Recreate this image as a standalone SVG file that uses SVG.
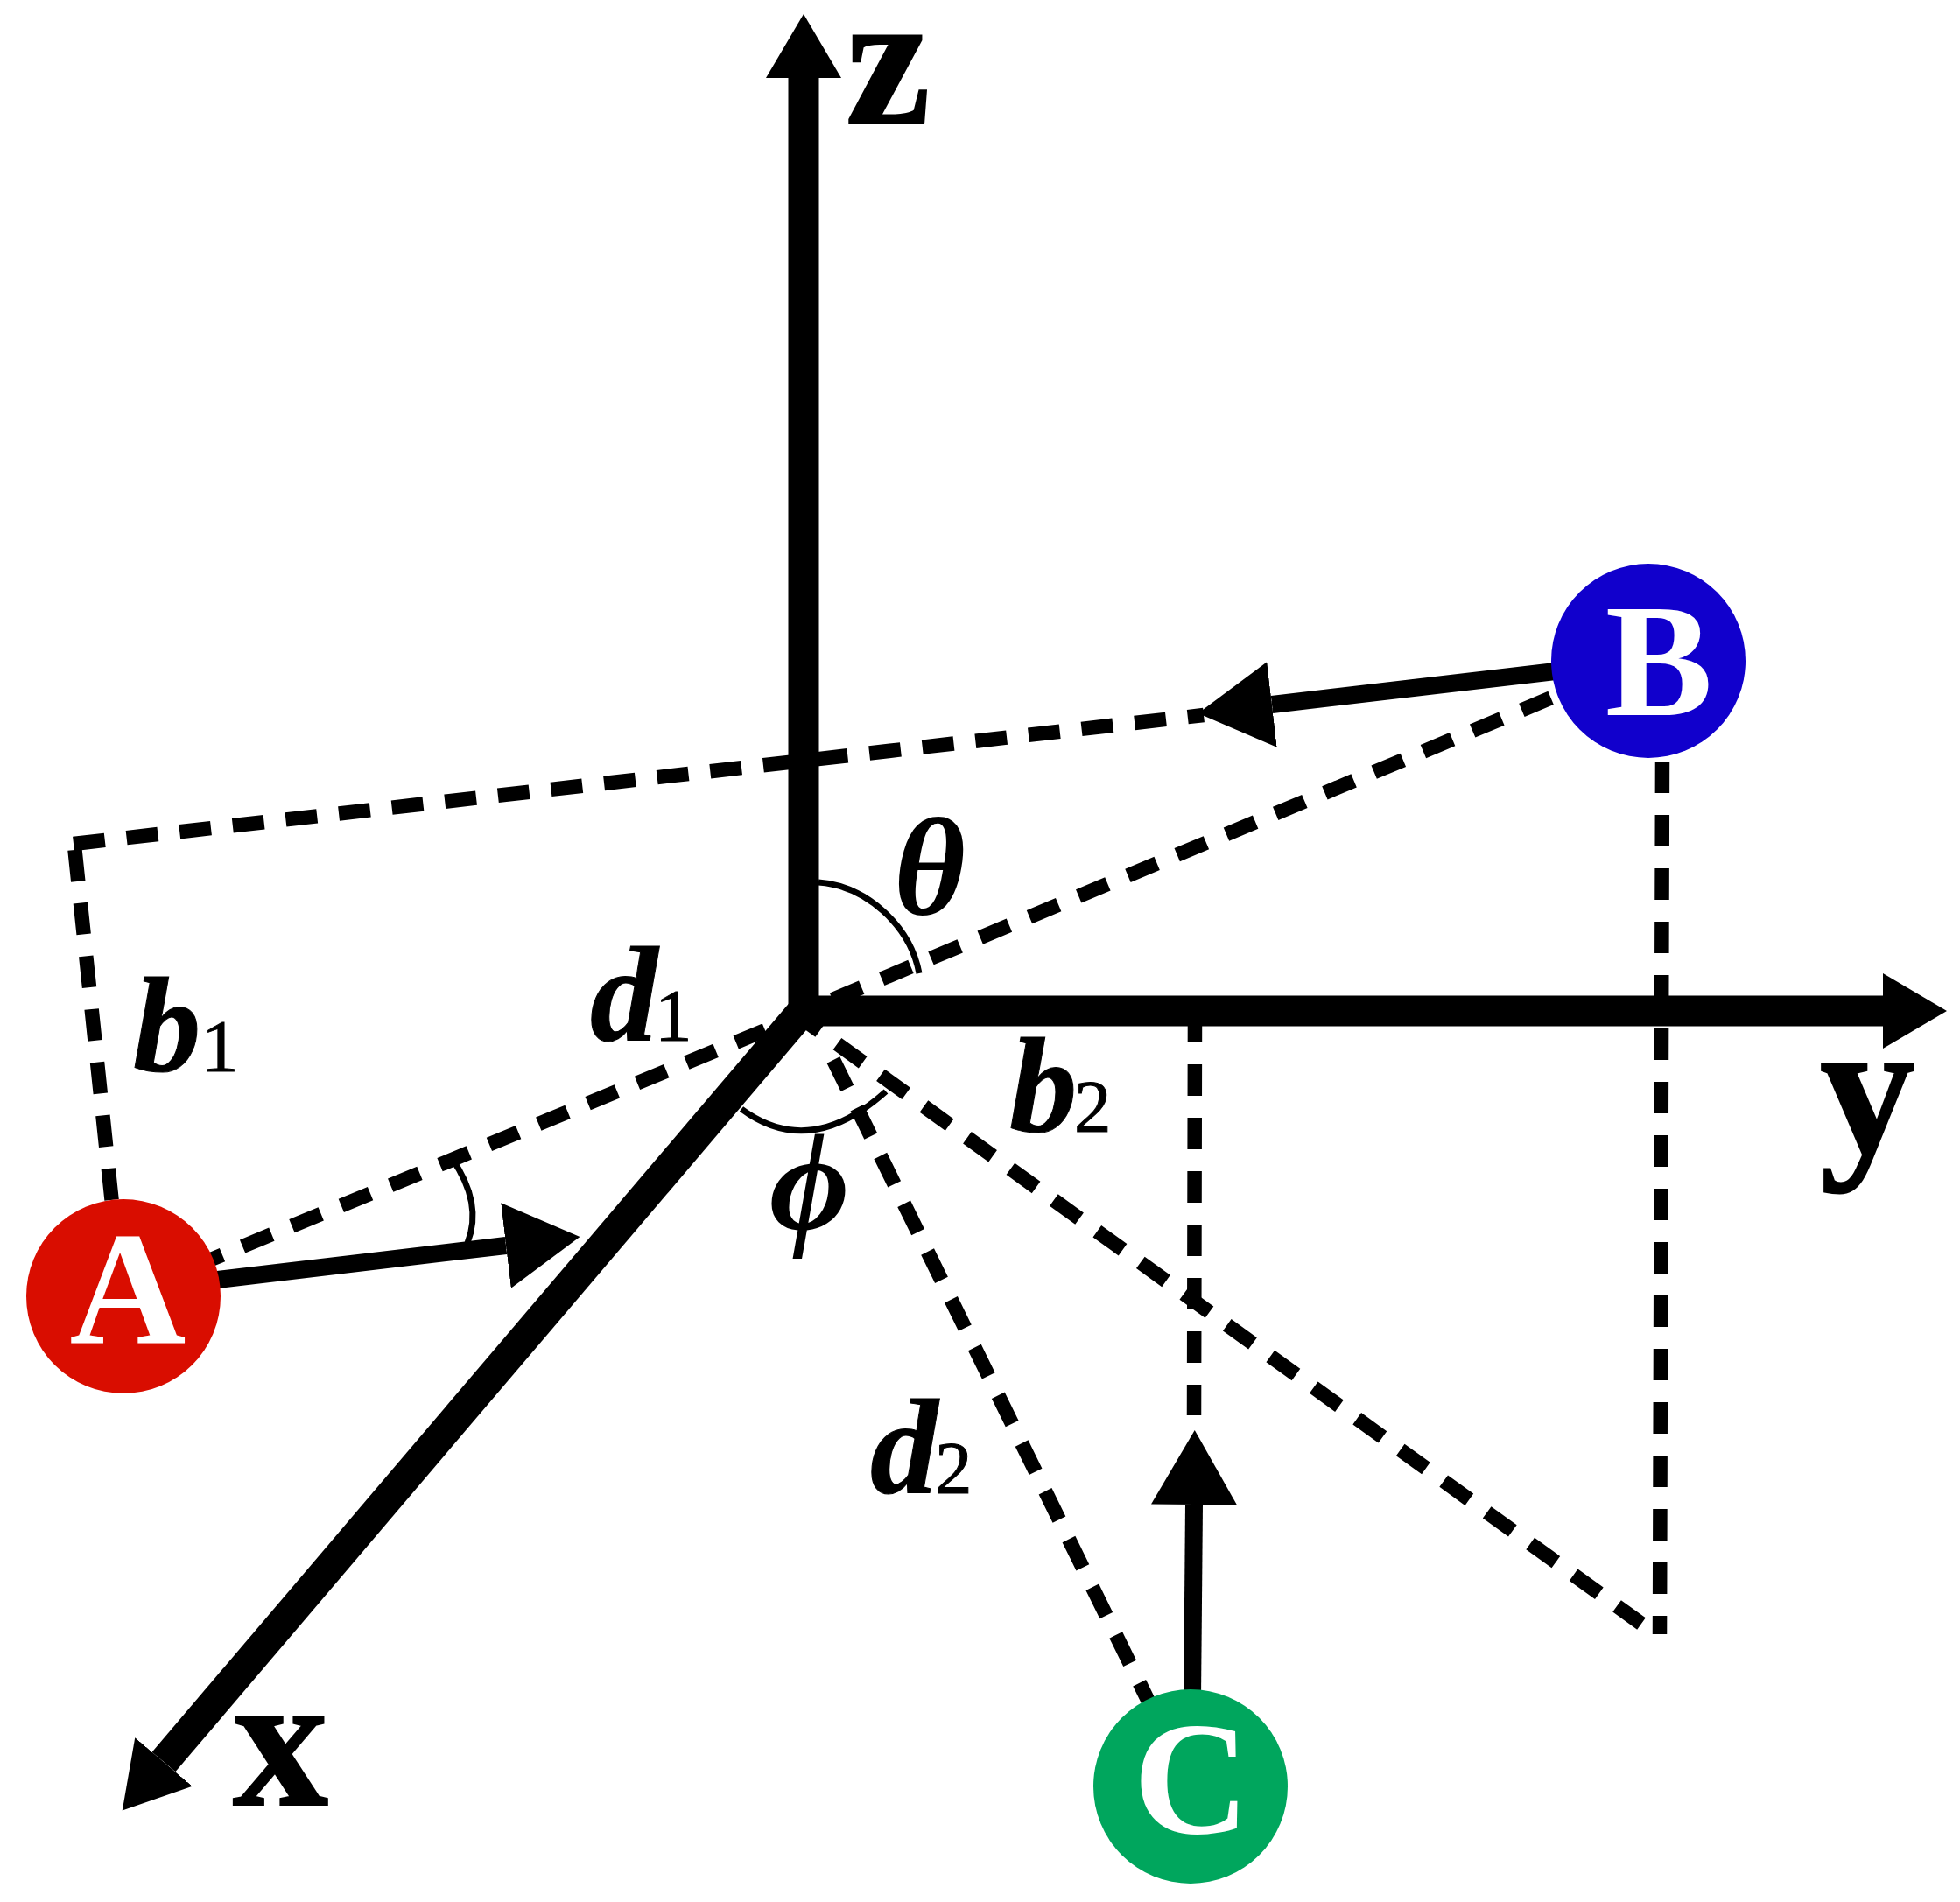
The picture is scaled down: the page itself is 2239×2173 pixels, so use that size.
<svg xmlns="http://www.w3.org/2000/svg" width="2239" height="2173" viewBox="0 0 2239 2173">
<style>
.axis{fill:none;stroke:#000;stroke-width:35}
.vec{fill:none;stroke:#000;stroke-width:20}
.dash{fill:none;stroke:#000;stroke-width:16.500;stroke-dasharray:36 25}
.arc{fill:none;stroke:#000;stroke-width:7}
text{font-family:"Liberation Serif","DejaVu Serif",serif;fill:#000}
.axl{font-size:218px;font-weight:bold;stroke:#000;stroke-width:2}
.nl{font-size:184px;font-weight:bold;fill:#fff;text-anchor:middle}
.var{font-size:155px;font-weight:bold;font-style:italic;stroke:#000;stroke-width:1}
.gk{font-size:158px;font-weight:bold;font-style:italic}
.sub{font-size:85px;stroke:#000;stroke-width:1}
</style>
<defs>
<marker id="axisHead" markerUnits="userSpaceOnUse" markerWidth="74" markerHeight="90" refX="0" refY="45" orient="auto" viewBox="0 0 74 90"><polygon points="0,2 73,45 0,88" fill="#000"/></marker>
<marker id="vecHead" markerUnits="userSpaceOnUse" markerWidth="86" markerHeight="102" refX="0" refY="51" orient="auto" viewBox="0 0 86 102"><polygon points="0,2 85,51 0,100" fill="#000"/></marker>
</defs>
<rect width="2239" height="2173" fill="#fff"/>
<g id="connectors">
<path class="dash" d="M84,964 L1375,817"/>
<path class="dash" d="M85.500,971 L128,1375"/>
<path class="dash" d="M874,1177 L236,1441"/>
<path class="dash" d="M951,1142 L1775,796"/>
<path class="dash" d="M952,1211 L1318,1956"/>
<path class="dash" d="M907,1157 L1875,1855"/>
<path class="dash" d="M1899,870 L1896,1867"/>
<path class="dash" d="M1365,1155 L1364,1617"/>
<path class="axis" d="M918,1172 L918,89" marker-end="url(#axisHead)"/>
<path class="axis" d="M901,1155 L2151,1155" marker-end="url(#axisHead)"/>
<path class="axis" d="M921,1150 L187,2013" marker-end="url(#axisHead)"/>
<path class="vec" d="M240,1463 L578,1423" marker-end="url(#vecHead)"/>
<path class="vec" d="M1785,766 L1453,805" marker-end="url(#vecHead)"/>
<path class="vec" d="M1362,1940 L1364,1719" marker-end="url(#vecHead)"/>
<path class="arc" d="M935,1008 C990,1012 1040,1058 1050,1112"/>
<path class="arc" d="M847,1267 Q925,1325 1012,1247"/>
<path class="arc" d="M516,1323 Q552,1375 534,1420"/>
</g>
<g id="node-A"><circle cx="141" cy="1481" r="111" fill="#d90d00"/><text class="nl" x="146" y="1534">A</text></g>
<g id="node-B"><circle cx="1883" cy="755" r="111" fill="#1100cc"/><text class="nl" x="1895" y="817">B</text></g>
<g id="node-C"><circle cx="1360" cy="2041" r="111" fill="#00a65d"/><text class="nl" x="1361" y="2094">C</text></g>
<g id="labels">
<text class="axl" x="966" y="141">z</text>
<text class="axl" x="2079" y="1316">y</text>
<text class="axl" x="266" y="2062">x</text>
<text class="var" x="152" y="1224">b</text><text class="sub" x="230" y="1224">1</text>
<text class="var" x="674" y="1189">d</text><text class="sub" x="748" y="1189">1</text>
<text class="var" x="1153" y="1293">b</text><text class="sub" x="1227" y="1293">2</text>
<text class="var" x="994" y="1706">d</text><text class="sub" x="1068" y="1706">2</text>
<text class="gk" x="1021" y="1044">θ</text>
<text class="gk" x="879" y="1404">ϕ</text>
</g>
</svg>
